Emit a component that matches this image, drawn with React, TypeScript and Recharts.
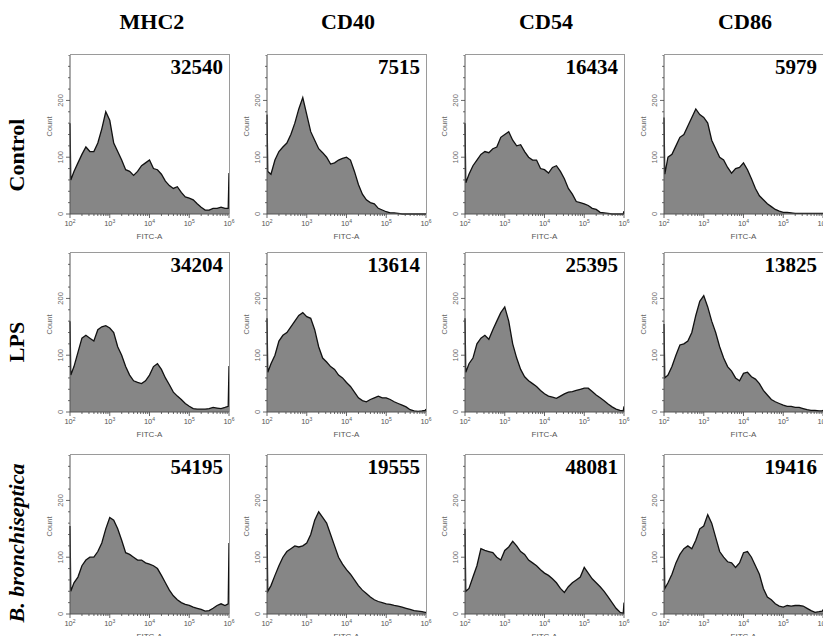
import React from 'react';
import { AreaChart, Area, XAxis, YAxis, Label } from 'recharts';

// log10 of FITC-A intensity, shared by every histogram
const logX = [
  2, 2.02, 2.1, 2.2, 2.3, 2.4, 2.5, 2.6, 2.7, 2.8, 2.9,
  3.0, 3.1, 3.2, 3.3, 3.4, 3.5, 3.6, 3.7, 3.8, 3.9,
  4.0, 4.1, 4.2, 4.3, 4.4, 4.5, 4.6, 4.7, 4.8, 4.9,
  5.0, 5.1, 5.2, 5.3, 5.4, 5.5, 5.6, 5.7, 5.8, 5.9, 5.98, 6,
];

// counts per bin
const ctrlMHC2 = [160, 60, 75, 90, 105, 118, 110, 110, 125, 150, 180, 165, 125, 110, 95, 78, 75, 68, 75, 85, 90, 95, 80, 78, 70, 58, 50, 45, 48, 38, 30, 28, 25, 18, 12, 7, 7, 10, 10, 12, 10, 10, 72];
const ctrlCD40 = [175, 75, 70, 95, 110, 118, 125, 140, 160, 185, 205, 175, 145, 130, 115, 108, 100, 88, 90, 95, 98, 100, 95, 75, 52, 35, 25, 20, 18, 10, 7, 4, 2, 2, 1, 0, 0, 0, 0, 0, 0, 0, 0];
const ctrlCD54 = [160, 55, 70, 85, 95, 105, 110, 108, 115, 118, 135, 140, 145, 130, 120, 122, 110, 100, 95, 95, 80, 78, 72, 82, 85, 75, 62, 45, 35, 22, 20, 18, 15, 10, 8, 3, 2, 1, 0, 0, 0, 0, 5];
const ctrlCD86 = [170, 70, 100, 105, 120, 135, 140, 155, 170, 185, 175, 170, 160, 130, 115, 100, 95, 82, 72, 80, 82, 90, 78, 62, 45, 32, 25, 18, 13, 8, 5, 3, 3, 2, 1, 1, 1, 1, 1, 1, 1, 1, 1];

const lpsMHC2 = [160, 65, 80, 105, 130, 135, 130, 125, 145, 150, 152, 148, 140, 115, 100, 80, 65, 55, 52, 50, 55, 65, 80, 85, 75, 60, 48, 35, 28, 22, 15, 10, 6, 5, 5, 5, 6, 8, 7, 6, 8, 10, 81];
const lpsCD40 = [165, 70, 85, 100, 125, 135, 140, 150, 160, 170, 175, 168, 165, 145, 115, 95, 88, 80, 75, 65, 60, 52, 45, 35, 25, 20, 18, 22, 25, 28, 25, 25, 22, 18, 15, 12, 9, 4, 2, 1, 2, 3, 5];
const lpsCD54 = [165, 70, 85, 95, 120, 130, 135, 128, 145, 160, 175, 185, 160, 120, 95, 75, 62, 55, 50, 45, 38, 32, 28, 26, 24, 28, 32, 35, 36, 38, 40, 42, 42, 36, 30, 25, 20, 14, 9, 5, 3, 2, 10];
const lpsCD86 = [155, 60, 65, 80, 100, 118, 120, 125, 140, 170, 195, 205, 185, 160, 140, 115, 95, 80, 72, 60, 55, 68, 70, 62, 58, 50, 38, 30, 22, 18, 15, 12, 10, 10, 8, 8, 6, 4, 3, 3, 2, 2, 3];

const bbMHC2 = [155, 40, 55, 65, 85, 95, 100, 100, 110, 125, 150, 170, 165, 150, 130, 108, 105, 100, 95, 95, 90, 88, 85, 80, 68, 55, 42, 32, 25, 20, 17, 15, 12, 10, 8, 5, 6, 10, 15, 18, 15, 18, 125];
const bbCD40 = [150, 40, 50, 68, 85, 100, 110, 115, 120, 118, 120, 125, 140, 165, 180, 170, 160, 140, 120, 100, 88, 78, 70, 60, 50, 42, 36, 30, 25, 22, 20, 18, 17, 15, 14, 12, 10, 8, 6, 5, 4, 3, 3];
const bbCD54 = [150, 40, 45, 65, 85, 115, 112, 110, 108, 100, 95, 112, 118, 128, 120, 110, 105, 95, 90, 85, 78, 72, 68, 62, 55, 45, 38, 48, 55, 60, 65, 82, 72, 62, 55, 48, 40, 30, 20, 10, 3, 1, 20];
const bbCD86 = [150, 45, 55, 70, 90, 105, 115, 120, 115, 130, 150, 155, 175, 160, 135, 110, 100, 92, 90, 82, 90, 108, 110, 100, 85, 70, 45, 30, 25, 18, 14, 12, 15, 14, 15, 15, 14, 10, 6, 3, 4, 5, 8];

const markers = ['MHC2', 'CD40', 'CD54', 'CD86'];
const conditions = ['Control', 'LPS', 'B. bronchiseptica'];
const mfiValues = [
  [32540, 7515, 16434, 5979],
  [34204, 13614, 25395, 13825],
  [54195, 19555, 48081, 19416],
];
const histograms = [
  [ctrlMHC2, ctrlCD40, ctrlCD54, ctrlCD86],
  [lpsMHC2, lpsCD40, lpsCD54, lpsCD86],
  [bbMHC2, bbCD40, bbCD54, bbCD86],
];

const decadeTicks = [2, 3, 4, 5, 6];
const countTicks = [0, 20, 40, 60, 80, 100, 120, 140, 160, 180, 200, 220, 240, 260, 280];

// minor log ticks between decades
const xTicks: number[] = [];
decadeTicks.forEach((d) => {
  xTicks.push(d);
  if (d < 6) for (let k = 2; k <= 9; k++) xTicks.push(d + Math.log10(k));
});

const colLeft = [70, 267, 465, 664];
const rowTop = [55, 253, 455];
const headerCenter = [152, 348, 546, 745];
const rowLabelCenter = [155, 342, 543];
const PLOT_W = 159;
const PLOT_H = 159;
const AXIS_W = 30;
const AXIS_H = 30;
const PAD_R = 10;

const axisFont = '"Liberation Sans", Arial, sans-serif';
const serif = '"Liberation Serif", "Times New Roman", serif';

const XTick = (props: any) => {
  const { x, y, payload } = props;
  const v = payload.value;
  const major = Number.isInteger(v);
  return (
    <g>
      <line x1={x} x2={x} y1={y} y2={y + (major ? 4 : 2)} stroke="#444" strokeWidth={0.8} />
      {major && (
        <text x={x} y={y + 12} textAnchor="middle" fontSize={7.5} fill="#555" fontFamily={axisFont}>
          <tspan>10</tspan>
          <tspan dy={-3} fontSize={5}>{v}</tspan>
        </text>
      )}
    </g>
  );
};

const YTick = (props: any) => {
  const { x, y, payload } = props;
  const v = payload.value;
  const major = v % 100 === 0;
  return (
    <g>
      <line x1={x} x2={x - (major ? 4 : 2)} y1={y} y2={y} stroke="#444" strokeWidth={0.8} />
      {major && (
        <text
          x={x - 7}
          y={y}
          transform={`rotate(-90 ${x - 7} ${y})`}
          textAnchor="middle"
          fontSize={7.5}
          fill="#666"
          fontFamily={axisFont}
        >
          {v}
        </text>
      )}
    </g>
  );
};

const Histogram = ({ values, left, top, mfi }: { values: number[]; left: number; top: number; mfi: number }) => {
  const data = logX.map((x, i) => ({ x, count: values[i] }));
  return (
    <>
      <div style={{ position: 'absolute', left: left - AXIS_W, top }}>
        <AreaChart
          width={AXIS_W + PLOT_W + PAD_R}
          height={PLOT_H + AXIS_H}
          data={data}
          margin={{ top: 0, right: PAD_R, bottom: 0, left: 0 }}
        >
          <XAxis
            dataKey="x"
            type="number"
            domain={[2, 6]}
            ticks={xTicks}
            interval={0}
            tick={XTick}
            tickLine={false}
            tickSize={0}
            tickMargin={0}
            height={AXIS_H}
            axisLine={{ stroke: '#555' }}
          >
            <Label
              content={(p: any) => (
                <text
                  x={p.viewBox.x + p.viewBox.width / 2}
                  y={p.viewBox.y + 25}
                  textAnchor="middle"
                  fontSize={8}
                  fill="#555"
                  fontFamily={axisFont}
                >
                  FITC-A
                </text>
              )}
            />
          </XAxis>
          <YAxis
            type="number"
            domain={[0, 280]}
            ticks={countTicks}
            interval={0}
            tick={YTick}
            tickLine={false}
            tickSize={0}
            tickMargin={0}
            width={AXIS_W}
            axisLine={{ stroke: '#555' }}
          >
            <Label
              content={(p: any) => {
                const cx = p.viewBox.x + 12;
                const cy = p.viewBox.y + p.viewBox.height / 2 - 8;
                return (
                  <text
                    x={cx}
                    y={cy}
                    transform={`rotate(-90 ${cx} ${cy})`}
                    textAnchor="middle"
                    fontSize={7.5}
                    fill="#666"
                    fontFamily={axisFont}
                  >
                    Count
                  </text>
                );
              }}
            />
          </YAxis>
          <Area
            type="linear"
            dataKey="count"
            stroke="#111"
            strokeWidth={1.3}
            fill="#868686"
            fillOpacity={1}
            isAnimationActive={false}
          />
        </AreaChart>
      </div>
      {/* gray frame on the top and right of each plot */}
      <div
        style={{
          position: 'absolute',
          left,
          top: top - 1,
          width: PLOT_W,
          height: PLOT_H,
          borderTop: '1px solid #9a9a9a',
          borderRight: '1px solid #9a9a9a',
          pointerEvents: 'none',
        }}
      />
      <div
        style={{
          position: 'absolute',
          left,
          top: top + 2,
          width: PLOT_W - 6,
          textAlign: 'right',
          fontFamily: serif,
          fontWeight: 'bold',
          fontSize: 21,
          lineHeight: '21px',
          color: '#000',
        }}
      >
        {mfi}
      </div>
    </>
  );
};

export default function App() {
  return (
    <div
      style={{
        position: 'absolute',
        left: 0,
        top: 0,
        width: 823,
        height: 636,
        background: '#fff',
        overflow: 'hidden',
        fontFamily: serif,
      }}
    >
      {markers.map((m, c) => (
        <div
          key={m}
          style={{
            position: 'absolute',
            left: headerCenter[c] - 60,
            top: 11,
            width: 120,
            textAlign: 'center',
            fontWeight: 'bold',
            fontSize: 22,
            lineHeight: '22px',
          }}
        >
          {m}
        </div>
      ))}
      {conditions.map((cond, r) => (
        <div
          key={cond}
          style={{
            position: 'absolute',
            left: 17 - 110,
            top: rowLabelCenter[r] - 12,
            width: 220,
            height: 24,
            lineHeight: '24px',
            textAlign: 'center',
            fontWeight: 'bold',
            fontStyle: r === 2 ? 'italic' : 'normal',
            fontSize: 22,
            transform: 'rotate(-90deg)',
          }}
        >
          {cond}
        </div>
      ))}
      {histograms.map((row, r) =>
        row.map((vals, c) => (
          <Histogram key={`${r}-${c}`} values={vals} left={colLeft[c]} top={rowTop[r]} mfi={mfiValues[r][c]} />
        ))
      )}
    </div>
  );
}
